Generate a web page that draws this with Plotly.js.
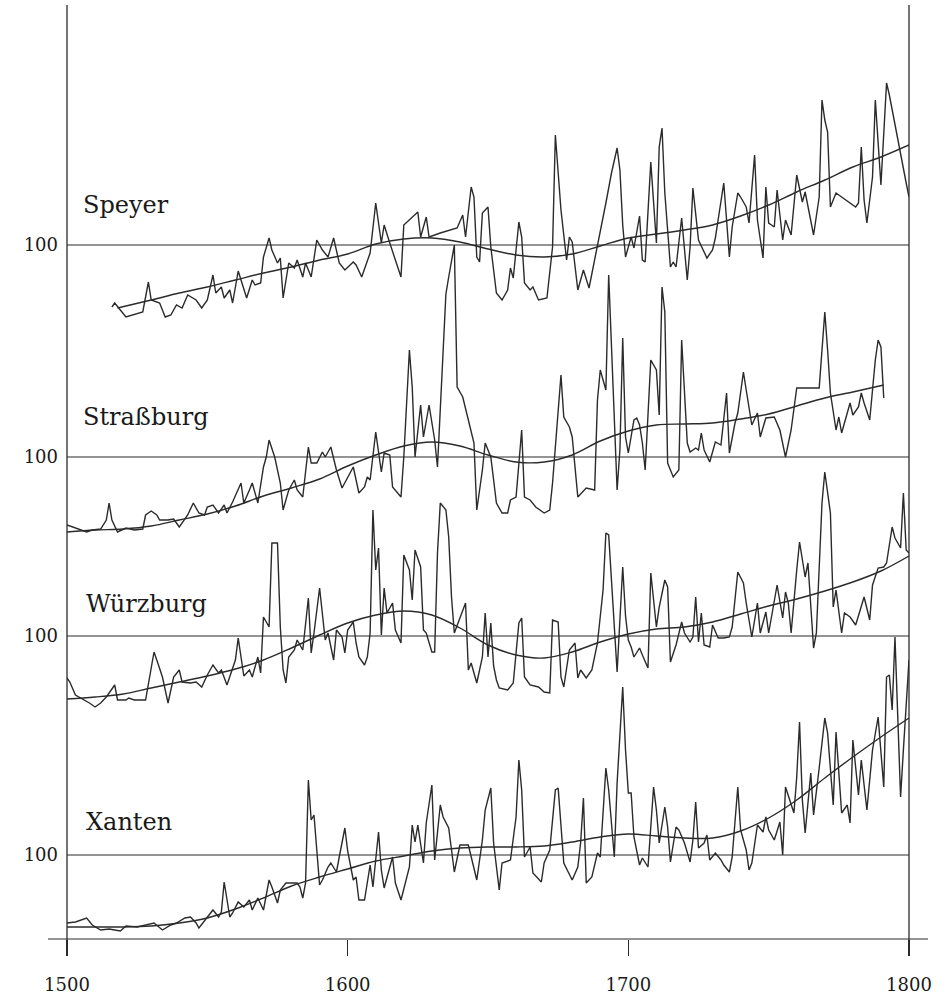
<!DOCTYPE html>
<html>
<head>
<meta charset="utf-8">
<script src="https://cdn.plot.ly/plotly-3.0.1.min.js"></script>
<style>html,body{margin:0;padding:0;background:#fff;}#chart{width:951px;height:995px;}</style>
</head>
<body>
<div id="chart"></div>
<script>
// ---- Speyer ----
const speyerYears = [1516,1517,1519,1521,1527,1529,1530,1533,1535,1537,1539,1541,1543,1546,1548,1550,1552,1553,1555,1556,1558,1559,1561,1563,1564,1566,1567,1569,1570,1572,1573,1575,1576,1577,1579,1581,1582,1584,1585,1587,1589,1591,1593,1595,1597,1599,1602,1603,1605,1608,1610,1612,1613,1615,1617,1619,1620,1623,1625,1626,1628,1629,1633,1639,1641,1642,1644,1645,1646,1647,1648,1650,1651,1653,1655,1657,1658,1659,1661,1662,1663,1665,1666,1668,1671,1673,1674,1676,1677,1678,1679,1680,1682,1684,1686,1688,1690,1692,1694,1696,1697,1698,1699,1701,1702,1704,1705,1706,1708,1710,1711,1712,1713,1715,1716,1717,1719,1721,1722,1723,1725,1728,1730,1731,1734,1736,1737,1739,1740,1742,1743,1745,1746,1748,1749,1750,1752,1753,1755,1756,1758,1760,1762,1763,1766,1768,1769,1770,1771,1772,1774,1776,1781,1782,1783,1784,1785,1787,1788,1790,1792,1793,1794,1795,1796,1797,1798,1799,1800];
const speyerValues = [38,42,35,28,33,63,45,42,28,30,40,37,50,45,37,45,70,52,58,47,55,42,74,55,47,65,60,62,88,107,95,82,87,47,82,77,85,68,82,68,105,95,88,107,82,75,83,80,68,92,142,102,120,102,85,68,120,128,133,108,128,108,112,117,130,108,158,148,88,83,132,138,98,52,45,55,77,67,123,108,62,55,58,45,47,98,210,135,110,85,108,103,55,75,57,85,112,142,172,197,175,120,88,108,97,129,85,83,183,102,198,217,152,78,83,78,127,65,98,157,105,87,95,107,162,88,118,152,148,138,122,190,125,87,158,122,118,155,105,125,110,170,143,153,110,148,245,225,213,138,152,148,138,142,198,145,122,168,245,160,262,250,235,218,203,188,175,162,148];
const speyerTrendYears = [1518,1530,1540,1550,1560,1570,1580,1590,1600,1610,1620,1630,1640,1650,1660,1670,1680,1690,1700,1710,1720,1730,1740,1750,1760,1770,1780,1790,1800];
const speyerTrend = [37,45,52,58,65,72,78,85,91,101,106,107,103,96,90,88,91,99,107,111,115,120,129,140,153,165,178,188,200];

// ---- Straßburg ----
const strassburgYears = [1500,1502,1505,1507,1509,1512,1514,1515,1516,1518,1521,1524,1527,1528,1530,1532,1533,1536,1538,1540,1543,1545,1547,1549,1550,1552,1554,1556,1557,1559,1562,1563,1565,1566,1568,1570,1571,1572,1574,1576,1577,1579,1581,1582,1584,1586,1587,1589,1591,1592,1594,1596,1598,1600,1602,1604,1606,1607,1608,1610,1611,1612,1613,1615,1616,1619,1620,1622,1623,1624,1626,1627,1629,1631,1632,1634,1635,1636,1637,1638,1639,1641,1643,1645,1646,1648,1649,1651,1653,1655,1657,1658,1660,1662,1663,1665,1667,1670,1672,1673,1676,1677,1679,1680,1682,1685,1688,1689,1690,1692,1693,1694,1696,1697,1698,1699,1700,1702,1703,1704,1705,1706,1708,1710,1711,1712,1713,1714,1716,1718,1719,1721,1722,1724,1725,1726,1727,1729,1731,1733,1735,1736,1738,1739,1741,1742,1744,1746,1747,1749,1752,1754,1756,1758,1759,1760,1768,1770,1771,1772,1774,1775,1776,1779,1780,1782,1783,1784,1786,1788,1789,1790,1791];
const strassburgValues = [32,30,27,25,27,28,37,54,37,25,29,27,28,42,46,42,37,37,38,30,42,54,44,42,50,52,44,52,44,55,74,54,67,74,54,90,100,117,100,74,47,67,77,67,60,110,94,94,105,100,110,87,69,80,90,64,70,80,77,125,104,85,104,102,70,60,100,207,170,100,152,120,152,117,90,207,263,280,295,312,170,160,137,114,47,87,114,100,54,44,44,57,60,127,60,57,50,44,47,74,182,140,130,120,60,69,67,157,187,167,282,207,67,107,219,120,104,137,139,132,114,87,197,187,142,270,245,94,80,87,217,114,105,109,107,124,107,95,115,112,164,104,134,144,185,167,132,144,120,139,140,127,100,127,147,169,169,245,207,164,127,140,124,154,142,150,164,154,137,197,217,210,159];
const strassburgTrendYears = [1500,1510,1520,1530,1540,1550,1560,1570,1580,1590,1600,1610,1620,1630,1640,1650,1660,1670,1680,1690,1700,1710,1720,1730,1740,1750,1760,1770,1780,1791];
const strassburgTrend = [25,27,28,31,37,43,51,61,69,78,91,102,111,115,111,102,95,95,102,116,126,132,133,134,138,143,151,159,165,172];

// ---- Würzburg ----
const wuerzburgYears = [1500,1501,1503,1505,1508,1510,1512,1514,1517,1518,1521,1522,1524,1528,1529,1531,1532,1534,1536,1538,1540,1541,1544,1546,1548,1550,1552,1554,1555,1557,1560,1561,1563,1565,1566,1568,1569,1570,1572,1573,1575,1576,1577,1578,1579,1581,1582,1584,1586,1587,1588,1590,1592,1593,1595,1596,1598,1599,1600,1602,1603,1604,1606,1607,1608,1609,1610,1611,1612,1613,1614,1616,1617,1619,1620,1622,1623,1624,1626,1627,1628,1630,1631,1632,1633,1635,1636,1637,1638,1640,1642,1643,1644,1646,1648,1649,1650,1651,1652,1653,1654,1657,1659,1661,1662,1663,1665,1668,1670,1672,1673,1675,1676,1677,1679,1681,1682,1683,1685,1687,1689,1691,1692,1693,1695,1696,1698,1699,1700,1701,1702,1704,1705,1707,1708,1710,1711,1713,1714,1715,1717,1719,1720,1722,1723,1724,1725,1726,1727,1729,1730,1732,1734,1736,1737,1739,1741,1742,1744,1746,1747,1749,1750,1753,1755,1756,1757,1758,1760,1761,1763,1764,1766,1767,1769,1770,1772,1773,1774,1776,1777,1779,1781,1784,1786,1787,1789,1791,1792,1794,1795,1797,1798,1799,1800];
const wuerzburgValues = [58,54,41,38,33,29,33,39,51,36,36,38,36,36,53,84,76,59,33,59,66,54,53,54,49,61,71,63,66,51,76,98,60,66,59,79,63,119,109,193,193,109,66,53,79,86,96,86,138,83,103,148,96,103,76,106,99,83,106,114,93,79,71,79,103,226,166,188,101,148,123,133,106,93,181,166,136,186,169,106,103,84,84,183,233,226,199,139,103,119,133,66,73,53,79,123,79,113,70,56,48,46,53,113,118,59,51,49,44,43,116,114,59,49,86,93,58,66,58,66,93,146,203,201,116,64,169,120,96,89,79,88,81,68,163,109,129,156,149,74,91,114,103,94,99,139,94,123,91,89,111,98,98,99,109,164,153,133,99,133,103,124,103,151,118,144,133,103,166,194,159,173,88,103,233,264,223,129,146,103,123,119,111,139,116,151,168,169,173,209,198,188,243,186,183];
const wuerzburgTrendYears = [1500,1510,1520,1530,1540,1550,1560,1570,1580,1590,1600,1610,1620,1630,1640,1650,1660,1670,1680,1690,1700,1710,1720,1730,1740,1750,1760,1770,1780,1790,1800];
const wuerzburgTrend = [37,39,42,48,54,60,67,76,88,101,113,121,125,121,108,91,81,78,84,94,102,107,109,114,122,130,137,145,154,165,180];

// ---- Xanten ----
const xantenYears = [1500,1503,1507,1509,1512,1515,1519,1521,1525,1528,1531,1534,1537,1539,1542,1544,1546,1547,1550,1552,1554,1555,1556,1558,1559,1561,1563,1565,1566,1568,1570,1572,1573,1575,1576,1578,1580,1582,1583,1584,1585,1586,1587,1588,1589,1590,1591,1593,1594,1596,1597,1599,1600,1602,1603,1604,1606,1608,1609,1611,1612,1613,1616,1617,1619,1622,1623,1624,1625,1627,1628,1630,1631,1633,1634,1636,1638,1640,1643,1646,1648,1649,1651,1652,1654,1655,1658,1660,1661,1662,1663,1665,1666,1669,1670,1672,1674,1675,1677,1680,1682,1683,1684,1685,1687,1689,1690,1692,1693,1695,1696,1698,1699,1700,1701,1702,1704,1705,1707,1709,1710,1711,1713,1714,1715,1717,1718,1720,1722,1723,1724,1725,1727,1728,1729,1731,1733,1734,1736,1737,1739,1740,1742,1743,1744,1746,1748,1749,1750,1752,1754,1755,1756,1758,1759,1760,1761,1762,1763,1765,1766,1768,1770,1771,1773,1774,1775,1776,1778,1779,1780,1782,1783,1785,1787,1789,1791,1792,1793,1794,1795,1796,1797,1798,1800];
const xantenValues = [32,33,37,30,25,26,24,29,28,30,32,25,30,32,37,38,32,27,38,45,38,43,73,38,42,53,48,55,45,57,45,75,68,52,65,72,72,72,68,57,72,175,135,140,105,70,75,88,92,83,98,127,104,75,78,55,55,90,68,123,85,67,98,72,55,88,130,113,130,92,132,170,95,150,138,127,83,110,110,75,115,145,167,112,65,92,95,138,195,165,98,108,82,73,92,105,165,167,92,75,88,112,157,72,78,102,98,187,165,98,172,268,205,162,162,118,90,97,88,168,145,112,148,128,93,128,125,112,93,115,153,107,112,120,95,102,95,90,83,98,168,125,105,85,92,130,123,138,125,115,133,100,168,152,142,178,233,155,122,182,140,187,237,222,150,223,177,142,150,132,215,160,195,145,205,238,168,278,280,245,318,238,158,205,295];
const xantenTrendYears = [1500,1510,1520,1530,1540,1550,1560,1570,1580,1590,1600,1610,1620,1630,1640,1650,1660,1670,1680,1690,1700,1710,1720,1730,1740,1750,1760,1770,1780,1790,1800];
const xantenTrend = [28,28,28,29,32,37,46,57,69,78,86,94,99,104,107,108,108,109,113,118,121,119,117,117,124,137,155,177,198,218,237];

const cityNames = ['Speyer','Straßburg','Würzburg','Xanten'];
const xTickVals = [1500,1600,1700,1800];
const xTickText = ['1500','1600','1700','1800'];

// ---- layout geometry (pixels) ----
const W = 951, H = 995;
const M = {l:67, r:42, t:5, b:56};
const plotH = H - M.t - M.b;           // 934
const baseline100 = [245, 457, 636, 855]; // pixel row of the "100" line for each panel
function rangeFor(y100){ return [100 + y100 - (H - M.b), 100 + y100 - M.t]; }

const lineColor = '#2b2b2b';
const axisNames = ['y','y2','y3','y4'];
const series = [
  [speyerYears, speyerValues, speyerTrendYears, speyerTrend],
  [strassburgYears, strassburgValues, strassburgTrendYears, strassburgTrend],
  [wuerzburgYears, wuerzburgValues, wuerzburgTrendYears, wuerzburgTrend],
  [xantenYears, xantenValues, xantenTrendYears, xantenTrend]
];

const traces = [];
series.forEach((s, i) => {
  traces.push({x:s[0], y:s[1], type:'scatter', mode:'lines', yaxis:axisNames[i],
    line:{color:lineColor, width:1.4}, hoverinfo:'skip', showlegend:false});
  traces.push({x:s[2], y:s[3], type:'scatter', mode:'lines', yaxis:axisNames[i],
    line:{color:lineColor, width:1.4, shape:'spline', smoothing:1}, hoverinfo:'skip', showlegend:false});
});

const tickFont = {family:'DejaVu Serif, serif', size:18, color:'#1a1a1a'};
function yAxis(i){
  const a = {range:rangeFor(baseline100[i]), domain:[0,1], tickvals:[100], ticktext:['100'],
    ticks:'', showgrid:false, zeroline:false, showline:false, tickfont:tickFont,
    ticklabelstandoff:8, fixedrange:true};
  if (i > 0) { a.overlaying = 'y'; a.side = 'left'; a.anchor = 'x'; }
  return a;
}

const shapes = [];
baseline100.forEach((b, i) => {
  shapes.push({type:'line', xref:'paper', x0:0, x1:1, yref:axisNames[i], y0:100, y1:100,
    line:{color:lineColor, width:1.2}});
});
const px2paperX = px => (px - M.l) / (W - M.l - M.r);
const px2paperY = py => (H - M.b - py) / plotH;
// bottom rule, extending beyond the frame
shapes.push({type:'line', xref:'paper', yref:'paper', x0:px2paperX(48), x1:px2paperX(928), y0:0, y1:0, line:{color:lineColor, width:1.2}});
// left and right frame lines
shapes.push({type:'line', xref:'paper', yref:'paper', x0:0, x1:0, y0:px2paperY(955), y1:1, line:{color:lineColor, width:1.3}});
shapes.push({type:'line', xref:'paper', yref:'paper', x0:1, x1:1, y0:px2paperY(955), y1:1, line:{color:lineColor, width:1.3}});

const labelFont = {family:'DejaVu Serif, serif', size:24, color:'#1a1a1a'};
const labelPos = [[81,205],[81,417],[84,604],[84,822]];
const annotations = cityNames.map((n, i) => ({text:n, xref:'paper', yref:'paper',
  x:px2paperX(labelPos[i][0]), y:px2paperY(labelPos[i][1]), xanchor:'left', yanchor:'middle',
  showarrow:false, font:labelFont}));

const layout = {
  width:W, height:H, margin:M, paper_bgcolor:'#fff', plot_bgcolor:'#fff', showlegend:false,
  xaxis:{range:[1500,1800], tickvals:xTickVals, ticktext:xTickText, ticks:'outside', ticklen:16,
    tickwidth:1.3, tickcolor:lineColor, showgrid:false, zeroline:false, showline:false,
    tickfont:tickFont, ticklabelstandoff:13, fixedrange:true},
  yaxis:yAxis(0), yaxis2:yAxis(1), yaxis3:yAxis(2), yaxis4:yAxis(3),
  shapes:shapes, annotations:annotations
};
Plotly.newPlot('chart', traces, layout, {staticPlot:true, displayModeBar:false});
</script>
</body>
</html>
